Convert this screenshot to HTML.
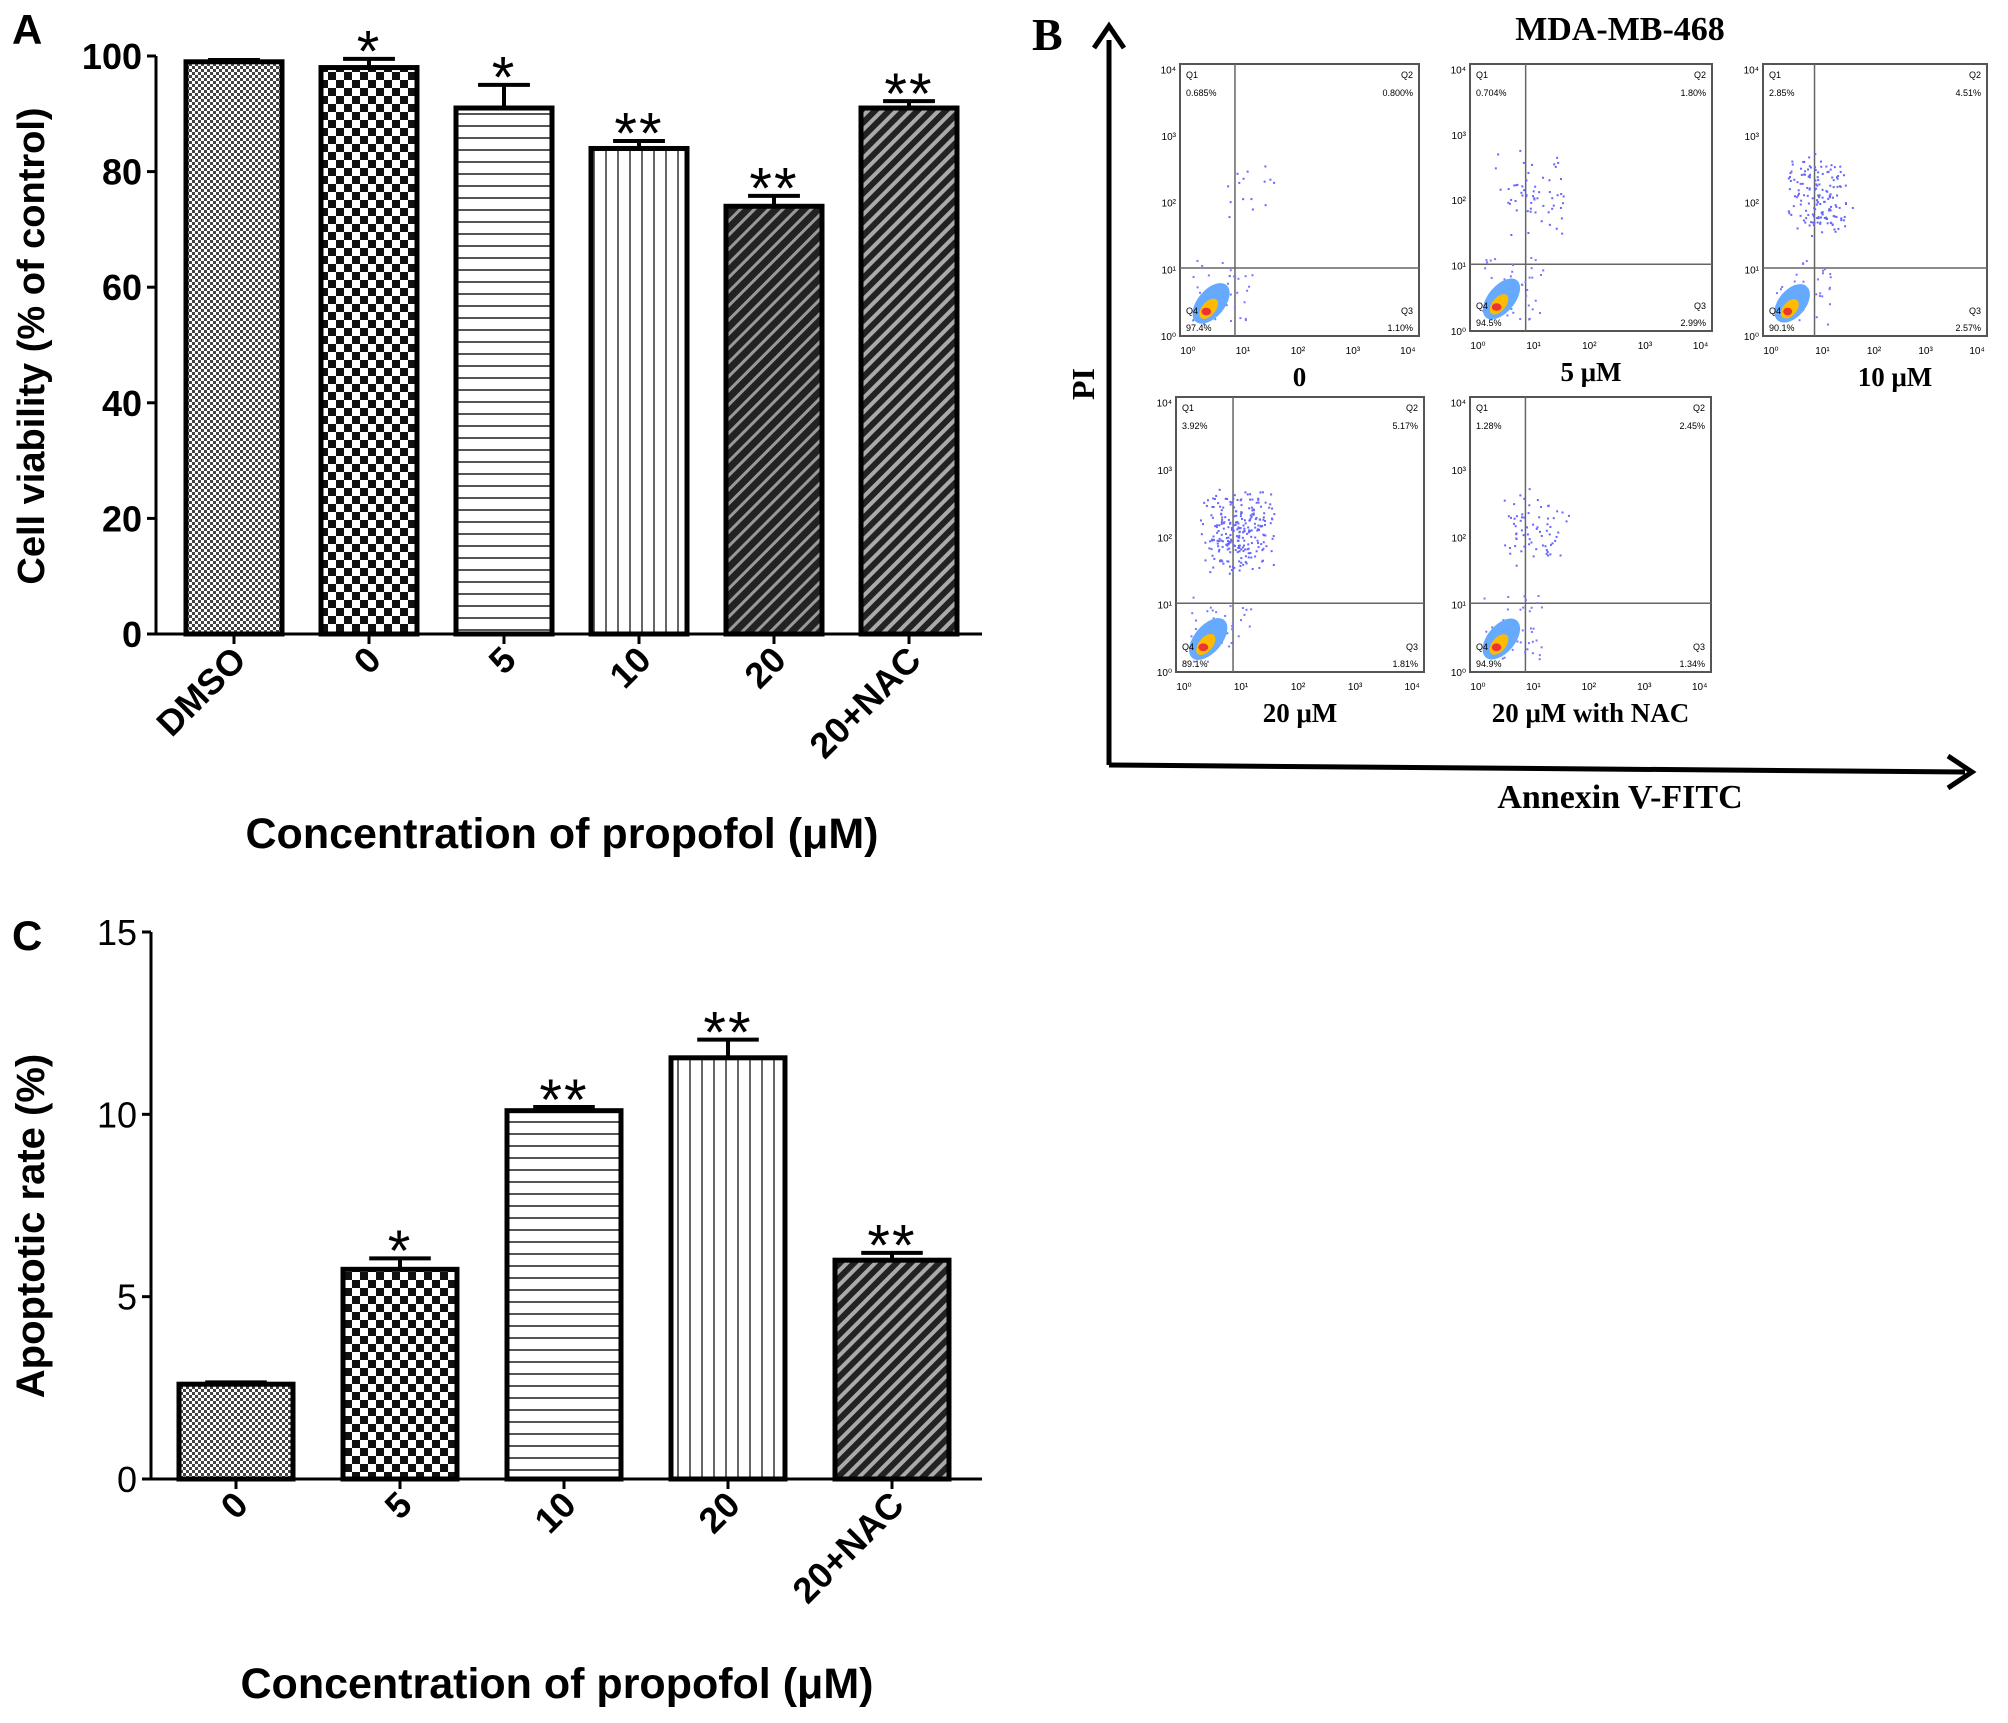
<!DOCTYPE html>
<html><head><meta charset="utf-8"><style>
html,body{margin:0;padding:0;background:#fff}
svg{display:block;font-family:"Liberation Sans",Arial,sans-serif}
.ser{font-family:"Liberation Serif",serif;font-weight:bold}
</style></head><body>
<svg id="fig" width="2008" height="1723" viewBox="0 0 2008 1723" xmlns="http://www.w3.org/2000/svg">
<defs>
<pattern id="pDmso" width="6" height="6" patternUnits="userSpaceOnUse"><rect width="6" height="6" fill="#fff"/><rect width="3" height="3" fill="#444"/><rect x="3" y="3" width="3" height="3" fill="#444"/></pattern>
<pattern id="pChk" width="16" height="16" patternUnits="userSpaceOnUse"><rect width="16" height="16" fill="#fff"/><rect width="8" height="8" fill="#111"/><rect x="8" y="8" width="8" height="8" fill="#111"/></pattern>
<pattern id="pHor" width="10" height="12" patternUnits="userSpaceOnUse"><rect width="10" height="12" fill="#fff"/><rect y="5" width="10" height="2" fill="#555"/></pattern>
<pattern id="pVer" width="12" height="10" patternUnits="userSpaceOnUse"><rect width="12" height="10" fill="#fff"/><rect x="5" width="2" height="10" fill="#666"/></pattern>
<pattern id="pDiagD" width="10" height="10" patternUnits="userSpaceOnUse" patternTransform="rotate(45)"><rect width="10" height="10" fill="#222"/><rect width="3" height="10" fill="#999"/></pattern>
<pattern id="pDiagN" width="10" height="10" patternUnits="userSpaceOnUse" patternTransform="rotate(45)"><rect width="10" height="10" fill="#222"/><rect width="4" height="10" fill="#aaa"/></pattern>
</defs>
<g id="panelA"></g>
<g id="panelC"></g>
<g id="panelB"></g>
</svg>
<script>
const NS="http://www.w3.org/2000/svg";
// Panel A data
const aCategories=["DMSO","0","5","10","20","20+NAC"];
const aValues=[99,98,91,84,74,91];
const aErrors=[0.3,1.5,4,1.3,1.8,1.2];
const aStars=["","*","*","**","**","**"];
const aTicks=[0,20,40,60,80,100];
// Panel C data
const cCategories=["0","5","10","20","20+NAC"];
const cValues=[2.6,5.75,10.1,11.55,6.0];
const cErrors=[0.05,0.3,0.1,0.5,0.2];
const cStars=["","*","**","**","**"];
const cTicks=[0,5,10,15];
const aFills=["url(#pDmso)","url(#pChk)","url(#pHor)","url(#pVer)","url(#pDiagD)","url(#pDiagN)"];
const cFills=["url(#pDmso)","url(#pChk)","url(#pHor)","url(#pVer)","url(#pDiagN)"];

function mk(tag,attrs,parent,text){const e=document.createElementNS(NS,tag);for(const k in attrs)e.setAttribute(k,attrs[k]);if(text!==undefined)e.textContent=text;parent.appendChild(e);return e;}

function barChart(g,o){
  const y=v=>o.y0-(v-o.ymin)/(o.ymax-o.ymin)*(o.y0-o.ytop);
  const x=i=>o.x0+o.first+i*o.step;
  const ax=mk("line",{x1:o.xa,y1:o.ytop,x2:o.xa,y2:o.y0+1,stroke:"#000","stroke-width":3},g);
  
  
  const bx=mk("line",{x1:o.xa,y1:o.y0,x2:o.xend,y2:o.y0,stroke:"#000","stroke-width":3},g);
  
  
  o.ticks.forEach(t=>{
    mk("line",{x1:o.xa-9,y1:y(t),x2:o.xa,y2:y(t),stroke:"#000","stroke-width":3},g);
    const tl=mk("text",{x:o.xa-14,y:y(t)+o.tf*0.36,"text-anchor":"end","font-size":o.tf,"font-weight":o.tw},g,String(t));
    
    
  });
  o.cats.forEach((c,i)=>{
    const cx=x(i),top=y(o.vals[i]);
    const b=mk("rect",{x:cx-o.bw/2,y:top,width:o.bw,height:o.y0-top,fill:o.fills[i],stroke:"#000","stroke-width":5},g);
    
    
    const et=y(o.vals[i]+o.errs[i]);
    mk("line",{x1:cx,y1:top,x2:cx,y2:et,stroke:"#000","stroke-width":4},g);
    const cap=mk("line",{x1:cx-o.bw*0.27,y1:et,x2:cx+o.bw*0.27,y2:et,stroke:"#000","stroke-width":4},g);
    
    
    if(o.stars[i]){const s=mk("text",{x:cx,y:et+o.sf*0.22,"text-anchor":"middle","font-size":o.sf,"letter-spacing":"2"},g,o.stars[i]);
      
      }
    mk("line",{x1:cx,y1:o.y0,x2:cx,y2:o.y0+10,stroke:"#000","stroke-width":3},g);
    const l=mk("text",{x:0,y:0,"text-anchor":"end","font-size":o.tf,"font-weight":"bold",transform:`translate(${cx+14},${o.y0+28}) rotate(-45)`},g,c);
    
    
  });
  const yt=mk("text",{x:0,y:0,"text-anchor":"middle","font-size":o.lf,"font-weight":"bold",transform:`translate(${o.ytx},${o.yty}) rotate(-90)`},g,o.ytitle);
  
  
  const xt=mk("text",{x:o.xtx,y:o.xty,"text-anchor":"middle","font-size":o.xf,"font-weight":"bold"},g,"Concentration of propofol (μM)");
  
  
  const pl=mk("text",{x:12,y:o.lety,"font-size":42,"font-weight":"bold"},g,o.letter);
  
  
}
barChart(document.getElementById("panelA"),{cats:aCategories,vals:aValues,errs:aErrors,stars:aStars,ticks:aTicks,fills:aFills,
  ymin:0,ymax:100,y0:634,ytop:56,xa:156,xend:982,x0:156,first:78,step:135,bw:96,tf:36,tw:"bold",sf:58,lf:38,xf:43,
  ytitle:"Cell viability (% of control)",ytx:44,yty:346,xtx:562,xty:848,letter:"A",lety:44});
barChart(document.getElementById("panelC"),{cats:cCategories,vals:cValues,errs:cErrors,stars:cStars,ticks:cTicks,fills:cFills,
  ymin:0,ymax:15,y0:1479,ytop:932,xa:151,xend:982,x0:151,first:85,step:164,bw:114,tf:36,tw:"normal",sf:58,lf:40,xf:43,
  ytitle:"Apoptotic rate (%)",ytx:44,yty:1226,xtx:557,xty:1698,letter:"C",lety:950});

// Panel B (flow cytometry illustration)
const bLabels=["0","5 μM","10 μM","20 μM","20 μM with NAC"];
const bQ1=["0.685%","0.704%","2.85%","3.92%","1.28%"];
const bQ2=["0.800%","1.80%","4.51%","5.17%","2.45%"];
const bQ3=["1.10%","2.99%","2.57%","1.81%","1.34%"];
const bQ4=["97.4%","94.5%","90.1%","89.1%","94.9%"];
const bUpper=[15,60,160,260,70];
(function(){
  const g=document.getElementById("panelB");
  const boxes=[[1180,64,239,272],[1470,64,242,267],[1763,64,224,272],[1176,397,248,275],[1470,397,241,275]];
  const t=mk("text",{x:1620,y:40,"text-anchor":"middle","font-size":34,class:"ser"},g,"MDA-MB-468");
  
  const L=mk("text",{x:1032,y:50,"font-size":46,class:"ser"},g,"B");
  
  mk("line",{x1:1109,y1:40,x2:1109,y2:765,stroke:"#000","stroke-width":5},g);
  mk("polyline",{points:"1094,48 1109,26 1124,48",fill:"none",stroke:"#000","stroke-width":5},g);
  mk("line",{x1:1109,y1:765,x2:1965,y2:772,stroke:"#000","stroke-width":5},g);
  mk("polyline",{points:"1948,756 1972,772 1948,788",fill:"none",stroke:"#000","stroke-width":5},g);
  const pi=mk("text",{x:0,y:0,"text-anchor":"middle","font-size":32,class:"ser",transform:"translate(1094,384) rotate(-90)"},g,"PI");
  
  const an=mk("text",{x:1620,y:808,"text-anchor":"middle","font-size":34,class:"ser"},g,"Annexin  V-FITC");
  
  let seed=7;const rnd=()=>{seed=(seed*16807)%2147483647;return seed/2147483647;};
  boxes.forEach((b,i)=>{
    const [x,y,w,h]=b;const sg=mk("g",{},g);
    
    mk("rect",{x,y,width:w,height:h,fill:"#fff",stroke:"#555","stroke-width":2},sg);
    const vx=x+w*0.23,hy=y+h*0.75;
    mk("line",{x1:vx,y1:y,x2:vx,y2:y+h,stroke:"#666","stroke-width":1.5},sg);
    mk("line",{x1:x,y1:hy,x2:x+w,y2:hy,stroke:"#666","stroke-width":1.5},sg);
    for(let k=0;k<bUpper[i];k++){const px=x+w*(0.08+(rnd()+rnd())*0.17),py=y+h*(0.48+(rnd()+rnd()-1)*0.16);
      mk("rect",{x:px,y:py,width:2,height:2,fill:"#66f"},sg);}
    for(let k=0;k<40;k++){const px=x+w*(0.05+rnd()*0.25),py=y+h*(0.72+rnd()*0.24);
      mk("rect",{x:px,y:py,width:2,height:2,fill:"#77f"},sg);}
    mk("ellipse",{cx:x+w*0.13,cy:y+h*0.88,rx:w*0.1,ry:h*0.05,fill:"#6af",transform:`rotate(-50 ${x+w*0.13} ${y+h*0.88})`},sg);
    mk("ellipse",{cx:x+w*0.12,cy:y+h*0.9,rx:w*0.05,ry:h*0.025,fill:"#fb0",transform:`rotate(-50 ${x+w*0.12} ${y+h*0.9})`},sg);
    mk("ellipse",{cx:x+w*0.11,cy:y+h*0.91,rx:w*0.02,ry:h*0.014,fill:"#e33"},sg);
    const f=9;
    mk("text",{x:x+6,y:y+14,"font-size":f},sg,"Q1");mk("text",{x:x+6,y:y+32,"font-size":f},sg,bQ1[i]);
    mk("text",{x:x+w-6,y:y+14,"font-size":f,"text-anchor":"end"},sg,"Q2");mk("text",{x:x+w-6,y:y+32,"font-size":f,"text-anchor":"end"},sg,bQ2[i]);
    mk("text",{x:x+w-6,y:y+h-22,"font-size":f,"text-anchor":"end"},sg,"Q3");mk("text",{x:x+w-6,y:y+h-5,"font-size":f,"text-anchor":"end"},sg,bQ3[i]);
    mk("text",{x:x+6,y:y+h-22,"font-size":f},sg,"Q4");mk("text",{x:x+6,y:y+h-5,"font-size":f},sg,bQ4[i]);
    ["10\u2070","10\u00b9","10\u00b2","10\u00b3","10\u2074"].forEach((s,k)=>{
      mk("text",{x:x-4,y:y+h-k*(h*0.245)+4,"font-size":10,"text-anchor":"end"},sg,s);
      mk("text",{x:x+8+k*(w*0.23),y:y+h+18,"font-size":10,"text-anchor":"middle"},sg,s);
    });
    const lb=mk("text",{x:x+w/2+(i==2?20:0),y:y+h+50,"text-anchor":"middle","font-size":27,class:"ser"},sg,bLabels[i]);
    
  });
})();
</script>
</body></html>
